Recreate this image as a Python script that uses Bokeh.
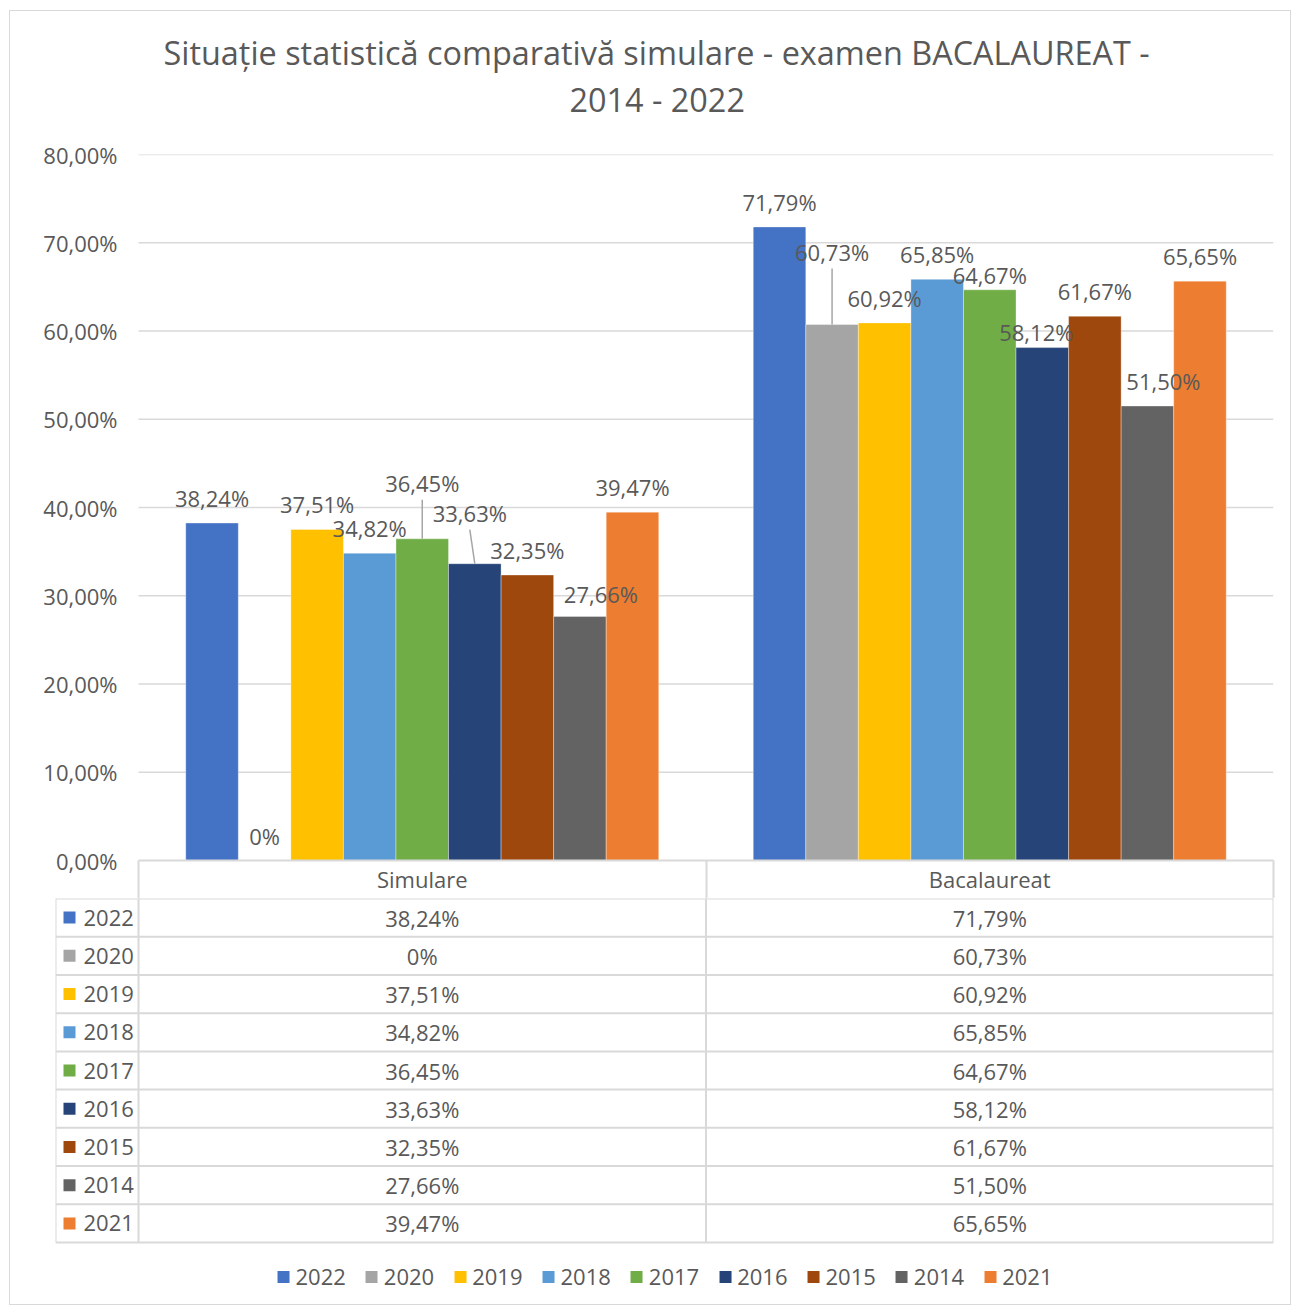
from bokeh.plotting import figure
from bokeh.models import (ColumnDataSource, Range1d, FixedTicker, CustomJSTickFormatter,
                          Title, Legend, LegendItem)
from bokeh.layouts import column
from bokeh.embed import file_html
from bokeh.resources import INLINE
from bokeh.core.properties import value

# ---------------- data ----------------
TITLE_1 = "Situație statistică comparativă simulare - examen BACALAUREAT -"
TITLE_2 = "2014 - 2022"
CATEGORIES = ["Simulare", "Bacalaureat"]
SERIES = ["2022", "2020", "2019", "2018", "2017", "2016", "2015", "2014", "2021"]
SIMULARE = [38.24, 0.0, 37.51, 34.82, 36.45, 33.63, 32.35, 27.66, 39.47]
BACALAUREAT = [71.79, 60.73, 60.92, 65.85, 64.67, 58.12, 61.67, 51.50, 65.65]
Y_TICKS = [0, 10, 20, 30, 40, 50, 60, 70, 80]
COLORS = ["#4472C4", "#A5A5A5", "#FFC000", "#5B9BD5", "#70AD47",
          "#264478", "#9E480E", "#636363", "#ED7D31"]

# ---------------- style / layout ----------------
FONT = "Open Sans"
TXT = "#595959"
GRID = "#d9d9d9"
LEAD = "#a6a6a6"
FS = "22px"

W = 1280
B_LEFT, B_RIGHT, B_TOP, HEADER = 45, 17, 143, 38   # frame = table width (incl. key column)
LEFT_COL_PX = 83                                     # key column of the data table
PLOT_W = W - B_LEFT - B_RIGHT - LEFT_COL_PX          # 1135 px for the two categories
PLOT_H = 706
H1 = B_TOP + PLOT_H + HEADER
H2 = 406
ROW_PX = 344 / len(SERIES)
X_PER_PX = len(CATEGORIES) / PLOT_W
Y_PER_PX = Y_TICKS[-1] / PLOT_H
x_start = -LEFT_COL_PX * X_PER_PX
GROUP = 0.8335
BAR_W = GROUP / len(SERIES)
LABEL_GAP = -25
# manual data-label nudges (px) as in the reference, and which get leader lines
NUDGE = {("2017", 0): (0, -31), ("2016", 0): (-5, -26), ("2014", 0): (21, 3),
         ("2020", 1): (0, -48), ("2017", 1): (0, 10), ("2016", 1): (-6, 9),
         ("2014", 1): (16, 0)}
LEADERS = [("2017", 0), ("2016", 0), ("2020", 1)]


def pct(v):
    return "0%" if v == 0 else f"{v:.2f}".replace(".", ",") + "%"


# ---------------- chart ----------------
p1 = figure(width=W, height=H1, x_range=Range1d(x_start, len(CATEGORIES)),
            y_range=Range1d(Y_TICKS[0], Y_TICKS[-1]), title=None,
            output_backend="svg", toolbar_location=None,
            min_border_left=B_LEFT, min_border_right=B_RIGHT,
            min_border_top=B_TOP, min_border_bottom=HEADER)
p1.outline_line_color = None
p1.grid.visible = False

# title: a spacer nearest the plot, then the two title lines stacked upwards
p1.add_layout(Title(text=" ", text_font=FONT, text_font_size="22px", standoff=0), "above")
for txt, so, off in [(TITLE_2, 3, 514), (TITLE_1, 0, 108)]:
    p1.add_layout(Title(text=txt, align="left", offset=off, text_font=FONT,
                        text_font_size="32.4px", text_font_style="normal",
                        text_color=TXT, standoff=so), "above")

# horizontal gridlines over the category area only
p1.segment(x0=[0] * (len(Y_TICKS) - 1), x1=[len(CATEGORIES)] * (len(Y_TICKS) - 1),
           y0=Y_TICKS[1:], y1=Y_TICKS[1:], line_color=GRID, line_width=1.5)

p1.yaxis.ticker = FixedTicker(ticks=Y_TICKS)
p1.yaxis.formatter = CustomJSTickFormatter(code="return tick.toFixed(2).replace('.', ',') + '%';")
p1.yaxis.axis_line_color = None
p1.yaxis.major_tick_line_color = None
p1.yaxis.minor_tick_line_color = None
p1.yaxis.major_tick_out = 0
p1.yaxis.major_label_standoff = -62
p1.yaxis.major_label_text_font = FONT
p1.yaxis.major_label_text_font_size = FS
p1.yaxis.major_label_text_color = TXT

p1.xaxis.bounds = (0, len(CATEGORIES))
p1.xaxis.ticker = FixedTicker(ticks=[i + 0.5 for i in range(len(CATEGORIES))],
                              minor_ticks=list(range(len(CATEGORIES) + 1)))
p1.xaxis.formatter = CustomJSTickFormatter(args=dict(cats=CATEGORIES),
                                           code="return cats[Math.floor(tick)];")
p1.xaxis.axis_line_color = GRID
p1.xaxis.axis_line_width = 2
p1.xaxis.major_tick_line_color = None
p1.xaxis.major_tick_out = 0
p1.xaxis.major_tick_in = 0
p1.xaxis.minor_tick_line_color = GRID
p1.xaxis.minor_tick_line_width = 2
p1.xaxis.minor_tick_out = HEADER
p1.xaxis.minor_tick_in = 0
p1.xaxis.major_label_standoff = -35
p1.xaxis.major_label_text_font = FONT
p1.xaxis.major_label_text_font_size = FS
p1.xaxis.major_label_text_color = TXT

lead = dict(x0=[], y0=[], x1=[], y1=[])
label_sources = []
for i, s in enumerate(SERIES):
    off = (i - (len(SERIES) - 1) / 2) * BAR_W
    vals = [SIMULARE[i], BACALAUREAT[i]]
    xs = [j + 0.5 + off for j in range(len(CATEGORIES))]
    dx = [NUDGE.get((s, j), (0, 0))[0] for j in range(len(CATEGORIES))]
    dy = [LABEL_GAP + NUDGE.get((s, j), (0, 0))[1] for j in range(len(CATEGORIES))]
    src = ColumnDataSource(dict(x=xs, top=vals, label=[pct(v) for v in vals], dx=dx, dy=dy))
    p1.vbar(x="x", top="top", width=BAR_W, fill_color=COLORS[i],
            line_color="white", line_alpha=0.35, line_width=1, source=src)
    label_sources.append(src)
    for j in range(len(CATEGORIES)):
        if (s, j) in LEADERS:
            lead["x0"].append(xs[j] + dx[j] * X_PER_PX)
            lead["y0"].append(vals[j] - (dy[j] + 17) * Y_PER_PX)
            lead["x1"].append(xs[j])
            lead["y1"].append(vals[j])
p1.segment(x0="x0", y0="y0", x1="x1", y1="y1", line_color=LEAD, line_width=1.5,
           source=ColumnDataSource(lead))
for src in label_sources:
    p1.text(x="x", y="top", text="label", x_offset="dx", y_offset="dy",
            text_align="center", text_baseline="middle", text_font=value(FONT),
            text_font_size=FS, text_color=TXT, source=src)

# ---------------- data table + legend ----------------
n = len(SERIES)
p2 = figure(width=W, height=H2, x_range=Range1d(x_start, len(CATEGORIES)),
            y_range=Range1d(H2 / ROW_PX, 0), title=None, x_axis_type=None, y_axis_type=None,
            output_backend="svg", toolbar_location=None,
            min_border_left=B_LEFT, min_border_right=B_RIGHT,
            min_border_top=0, min_border_bottom=0)
p2.outline_line_color = None
p2.grid.visible = False

p2.segment(x0=[x_start] * (n + 1), x1=[len(CATEGORIES)] * (n + 1),
           y0=list(range(n + 1)), y1=list(range(n + 1)), line_color=GRID, line_width=2)
vx = [x_start] + list(range(len(CATEGORIES) + 1))
p2.segment(x0=vx, x1=vx, y0=[0] * len(vx), y1=[n] * len(vx), line_color=GRID, line_width=2)

items = []
for i, s in enumerate(SERIES):
    r = p2.rect(x=[x_start + 14 * X_PER_PX], y=[i + 0.5], width=12, height=12,
                width_units="screen", height_units="screen",
                fill_color=COLORS[i], line_color=None)
    items.append(LegendItem(label=s, renderers=[r]))

p2.text(x=[x_start] * n, y=[i + 0.5 for i in range(n)], text=SERIES, x_offset=28,
        text_align="left", text_baseline="middle", text_font=value(FONT),
        text_font_size=FS, text_color=TXT)
for j, vals in enumerate([SIMULARE, BACALAUREAT]):
    p2.text(x=[j + 0.5] * n, y=[i + 0.5 for i in range(n)], text=[pct(v) for v in vals],
            text_align="center", text_baseline="middle", text_font=value(FONT),
            text_font_size=FS, text_color=TXT)

legend = Legend(items=items, orientation="horizontal", location="bottom_center",
                glyph_width=15, glyph_height=15, label_standoff=5, spacing=18,
                padding=0, margin=13, border_line_color=None, background_fill_alpha=0,
                label_text_font=FONT, label_text_font_size=FS, label_text_color=TXT)
p2.add_layout(legend)

layout = column(p1, p2, spacing=0,
                styles={"border": "1px solid #d9d9d9", "margin-left": "9px", "margin-top": "10px"})

open("out.html", "w").write(file_html(layout, INLINE))
